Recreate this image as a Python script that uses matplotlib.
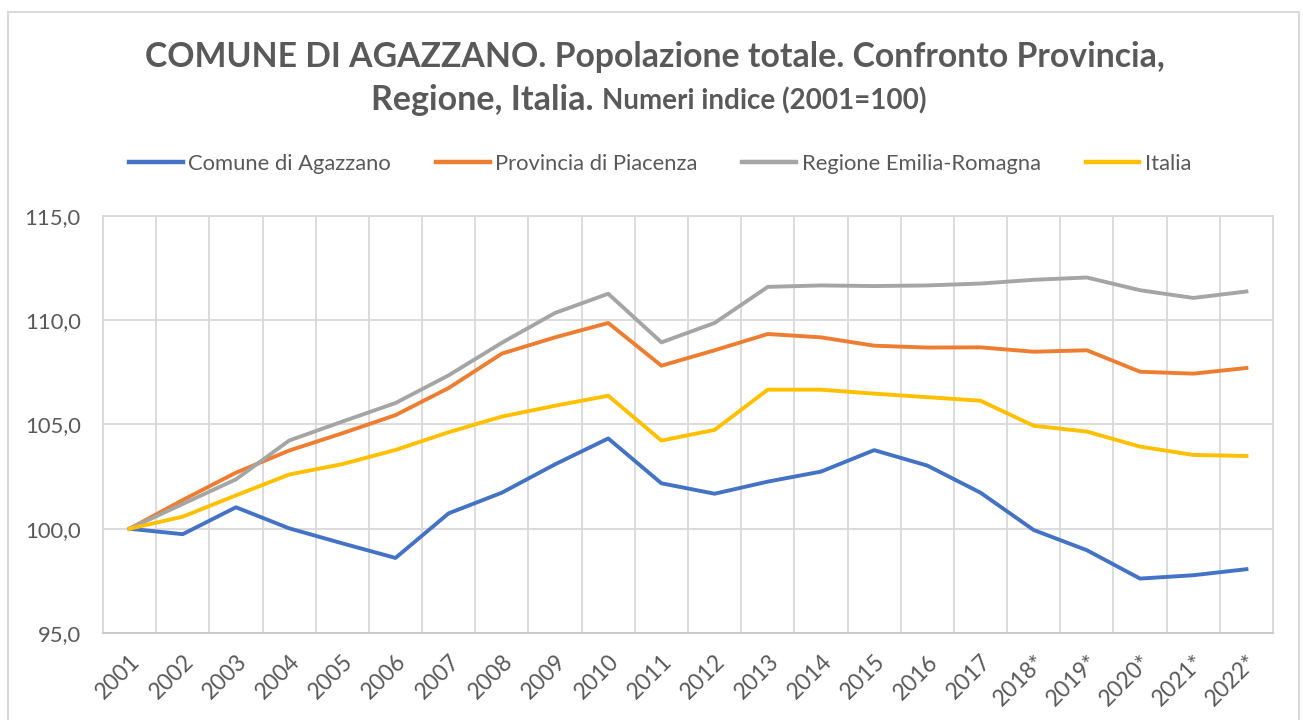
import numpy as np
import matplotlib
matplotlib.use("Agg")
import matplotlib.pyplot as plt
from matplotlib.patches import Rectangle
from matplotlib.ticker import FuncFormatter

plt.rcParams['font.family'] = ['Lato', 'DejaVu Sans']
txt_color = "#595959"
grid_color = "#D9D9D9"
label_size = 15.8

#===================================================
# Data (numeri indice, 2001=100)
#===================================================
anni = ["2001", "2002", "2003", "2004", "2005", "2006", "2007", "2008", "2009", "2010",
        "2011", "2012", "2013", "2014", "2015", "2016", "2017", "2018*", "2019*",
        "2020*", "2021*", "2022*"]

agazzano = [100.0, 99.74, 101.03, 100.02, 99.3, 98.6, 100.74, 101.73, 103.09, 104.33,
            102.18, 101.68, 102.26, 102.74, 103.77, 103.03, 101.73, 99.94, 98.97,
            97.61, 97.77, 98.06]
piacenza = [100.0, 101.38, 102.69, 103.75, 104.58, 105.45, 106.75, 108.4, 109.18, 109.87,
            107.82, 108.56, 109.34, 109.18, 108.78, 108.69, 108.7, 108.49, 108.56,
            107.53, 107.44, 107.71]
emilia = [100.0, 101.19, 102.37, 104.23, 105.14, 106.03, 107.36, 108.92, 110.35, 111.27,
          108.94, 109.87, 111.6, 111.67, 111.64, 111.67, 111.76, 111.94, 112.05,
          111.44, 111.07, 111.38]
italia = [100.0, 100.58, 101.6, 102.6, 103.1, 103.78, 104.63, 105.38, 105.9, 106.38,
          104.23, 104.74, 106.67, 106.67, 106.48, 106.31, 106.14, 104.94, 104.66,
          103.94, 103.54, 103.49]

serie = [("Comune di Agazzano", agazzano, "#4472C4"),
         ("Provincia di Piacenza", piacenza, "#ED7D31"),
         ("Regione Emilia-Romagna", emilia, "#A5A5A5"),
         ("Italia", italia, "#FFC000")]

#===================================================
fig = plt.figure(figsize=(13.03, 7.2), dpi=100)
ax = fig.add_axes([103/1303, 1-633/720, 1170/1303, 417/720])

x = np.arange(len(anni))
for nome, vals, col in serie:
    ax.plot(x, vals, color=col, lw=2.8, label=nome, solid_joinstyle='round')

ax.set_xlim(-0.5, len(anni)-0.5)
ax.set_ylim(95, 115)
ax.set_yticks([95, 100, 105, 110, 115])
ax.yaxis.set_major_formatter(FuncFormatter(lambda v, p: ("%.1f" % v).replace(".", ",")))
ax.set_xticks(x)
ax.set_xticks(np.arange(len(anni)+1)-0.5, minor=True)
ax.set_xticklabels(anni, rotation=45, ha='right', va='top', rotation_mode='anchor')
ax.tick_params(axis='x', which='both', length=0, labelsize=16.5, labelcolor=txt_color, pad=13)
ax.tick_params(axis='y', length=0, labelsize=label_size, labelcolor=txt_color, pad=16)
ax.grid(True, axis='y', color=grid_color, lw=1.3)
ax.grid(True, axis='x', which='minor', color=grid_color, lw=1.3)
ax.grid(False, axis='x', which='major')
ax.set_axisbelow(True)
for s in ax.spines.values():
    s.set_color(grid_color)
    s.set_linewidth(1.3)
ax.spines['bottom'].set_color("#C8C8C8")

# titolo
fig.text(655/1303, 1-57/720, "COMUNE DI AGAZZANO. Popolazione totale. Confronto Provincia,",
         ha='center', va='center', fontsize=24.3, fontweight='bold', color=txt_color)
fig.text(594/1303, 1-100/720, "Regione, Italia.", ha='right', va='center',
         fontsize=24.5, fontweight='bold', color=txt_color)
fig.text(602/1303, 1-101/720, "Numeri indice (2001=100)", ha='left', va='center',
         fontsize=20, fontweight='bold', color=txt_color)

leg = fig.legend(loc='center', bbox_to_anchor=(660/1303, 1-164/720), ncol=4, frameon=False,
                 fontsize=label_size, handlelength=2.45, handletextpad=0.25, columnspacing=2.05)
for t in leg.get_texts():
    t.set_color(txt_color)
for h in leg.legend_handles:
    h.set_linewidth(3.2)

# bordo del grafico
fig.patches.append(Rectangle((8/1303, -0.05), 1291/1303, 1.05-12/720, transform=fig.transFigure,
                             fill=False, edgecolor=grid_color, lw=1.5))

fig.savefig("out.png", dpi=100)
